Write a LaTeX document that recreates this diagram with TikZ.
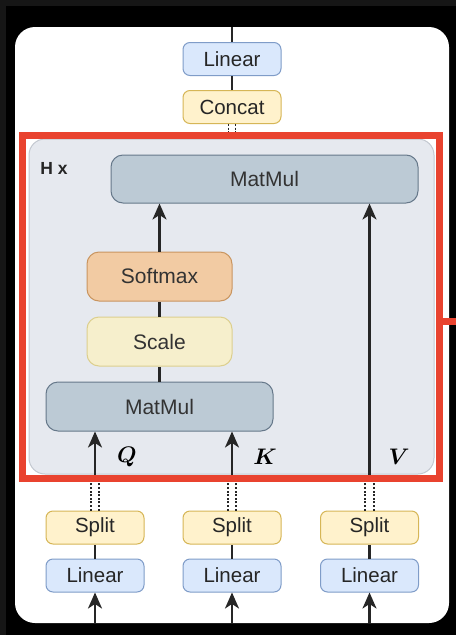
\documentclass[tikz,border=0pt]{standalone}
\usepackage{fontspec}
\usepackage{amsmath}
\usetikzlibrary{arrows.meta}
\newfontfamily\boxfont{Liberation Sans}

\definecolor{framegray}{HTML}{161616}
\definecolor{bluefill}{HTML}{DAE8FC}
\definecolor{blueline}{HTML}{7F9CC8}
\definecolor{yelfill}{HTML}{FFF2CC}
\definecolor{yelline}{HTML}{D6B656}
\definecolor{scalefill}{HTML}{F6EFCC}
\definecolor{scaleline}{HTML}{DCCF8E}
\definecolor{softfill}{HTML}{F2CBA3}
\definecolor{softline}{HTML}{C99560}
\definecolor{mmfill}{HTML}{BCCAD5}
\definecolor{mmline}{HTML}{66788A}
\definecolor{hfill}{HTML}{E6E9EF}
\definecolor{hline}{HTML}{C3C8D0}
\definecolor{redmark}{HTML}{E9432F}
\definecolor{ink}{HTML}{262626}
\definecolor{txt}{HTML}{333333}

\tikzset{
  opbox/.style={rounded corners=7pt, line width=1pt, inner sep=0pt,
    minimum width=98pt, minimum height=33pt,
    font=\boxfont\fontsize{20.5}{24}\selectfont, text=ink},
  linbox/.style={opbox, fill=bluefill, draw=blueline},
  splitbox/.style={opbox, fill=yelfill, draw=yelline},
  bigbox/.style={rounded corners=12pt, line width=1pt, inner sep=0pt,
    minimum width=145pt, minimum height=49pt,
    font=\boxfont\fontsize{21}{25}\selectfont, text=txt},
  mmbox/.style={bigbox, fill=mmfill, draw=mmline},
  softbox/.style={bigbox, fill=softfill, draw=softline},
  scalebox/.style={bigbox, fill=scalefill, draw=scaleline},
  flow/.style={draw=ink, line width=2.2pt},
  flowarrow/.style={flow, -{Stealth[length=16pt, width=14pt, inset=4.5pt]}},
  dotline/.style={draw=ink, line width=1.8pt, dash pattern=on 2pt off 1.6pt},
  qkv/.style={scale=2.25, inner sep=0pt, text=black}
}

\begin{document}
\begin{tikzpicture}[x=1pt, y=-1pt]
  % page background and white panel
  \fill[framegray] (0,0) rectangle (456,635);
  \fill[black] (6,6) rectangle (456,635);
  \path[use as bounding box] (0,0) rectangle (456,635);
  \fill[white, rounded corners=20pt] (15,27) rectangle (449,623);

  % repeated-head block
  \draw[fill=hfill, draw=hline, line width=1pt, rounded corners=16pt]
    (29,139) rectangle (434,474);
  \node[font=\boxfont\bfseries\fontsize{17.5}{20}\selectfont, text=ink] (hx) at (54,168) {H x};

  % output path
  \coordinate (outtop) at (232,27);
  \node[linbox] (linout) at (232,59) {Linear};
  \node[splitbox] (cat) at (232,107) {Concat};
  \coordinate (cattop) at (232,139);

  % attention operations
  \node[mmbox, minimum width=307pt, minimum height=48pt] (mm2) at (264.5,179) {MatMul};
  \node[softbox] (soft) at (159.5,276.5) {Softmax};
  \node[scalebox] (scl) at (159.5,341.5) {Scale};
  \node[mmbox, minimum width=227pt, minimum height=49pt] (mm1) at (159.5,406.5) {MatMul};

  % input projections
  \node[splitbox] (sq) at (95,527.5) {Split};
  \node[splitbox] (sk) at (232,527.5) {Split};
  \node[splitbox] (sv) at (369.5,527.5) {Split};
  \node[linbox] (lq) at (95,575.5) {Linear};
  \node[linbox] (lk) at (232,575.5) {Linear};
  \node[linbox] (lv) at (369.5,575.5) {Linear};
  \coordinate (inq) at (95,623);
  \coordinate (ink) at (232,623);
  \coordinate (inv) at (369.5,623);
  \coordinate (jq) at (95,478);
  \coordinate (jk) at (232,478);
  \coordinate (jv) at (369.5,478);

  % connectors
  \draw[flow] (linout.north) -- (outtop);
  \draw[flow] (cat.north) -- (linout.south);
  \foreach \s in {-3.5,3.5}
    \draw[dotline] ([xshift=\s pt]cat.south) -- ([xshift=\s pt]cattop);

  \draw[flow] (mm1.north) -- (scl.south);
  \draw[flow] (scl.north) -- (soft.south);
  \draw[flowarrow] (soft.north) -- (soft.north |- mm2.south);

  \foreach \a/\b/\c/\j in {inq/lq/sq/jq, ink/lk/sk/jk, inv/lv/sv/jv}{
    \draw[flowarrow] (\a) -- (\b.south);
    \draw[flow] (\b.north) -- (\c.south);
    \foreach \s in {-4.3,4.3}
      \draw[dotline] ([xshift=\s pt]\c.north) -- ([xshift=\s pt]\j);
  }
  \draw[flowarrow] (jq) -- (jq |- mm1.south);
  \draw[flowarrow] (jk) -- (jk |- mm1.south);
  \draw[flowarrow] (jv) -- (jv |- mm2.south);

  \node[qkv] (lq1) at (127,457) {$\boldsymbol{Q}$};
  \node[qkv] (lk1) at (265,457) {$\boldsymbol{K}$};
  \node[qkv] (lv1) at (399,457) {$\boldsymbol{V}$};

  % highlight frame
  \draw[redmark, line width=7pt] (22.5,135.5) rectangle (439,478.5);
  \draw[redmark, line width=7pt] (439,321) -- (456,321);
\end{tikzpicture}
\end{document}
